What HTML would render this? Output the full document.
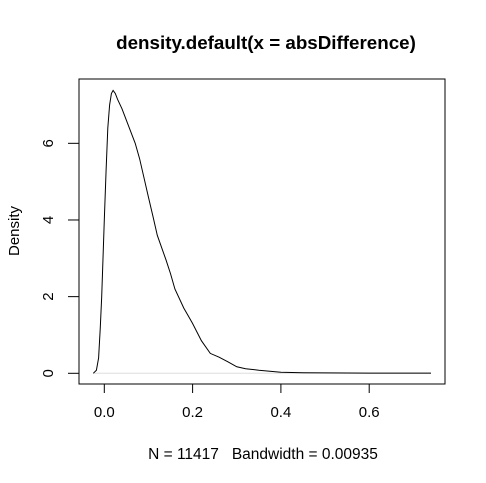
<!DOCTYPE html>
<html><head><meta charset="utf-8"><style>body{margin:0;background:#fff}svg{display:block;font-family:"Liberation Sans",Arial,sans-serif}</style></head>
<body>
<svg id="chart" width="486" height="483">
<text x="266" y="49" font-size="18.8" font-weight="bold" text-anchor="middle">density.default(x = absDifference)</text>
<rect x="79" y="79" width="366" height="305" fill="none" stroke="#000"/>
<g id="xaxis"></g>
<g id="yaxis"></g>
<line id="zero" stroke="#ddd"/>
<path id="curve" fill="none" stroke="#000" stroke-width="1"/>
<text x="263" y="459" font-size="15.5" text-anchor="middle" style="white-space:pre">N = 11417   Bandwidth = 0.00935</text>
<text transform="translate(19,231) rotate(-90)" font-size="15" text-anchor="middle">Density</text>
</svg>
<script>
const xTicks=[0,0.2,0.4,0.6];
const xTickLabels=["0.0","0.2","0.4","0.6"];
const yTicks=[0,2,4,6];
const yTickLabels=["0","2","4","6"];
const xs=[-0.025,-0.018,-0.013,-0.009,-0.006,-0.003,0,0.004,0.008,0.012,0.016,0.02,0.025,0.03,0.04,0.05,0.06,0.07,0.08,0.09,0.1,0.11,0.12,0.14,0.15,0.16,0.18,0.19,0.2,0.22,0.24,0.26,0.28,0.3,0.32,0.35,0.4,0.45,0.5,0.6,0.74];
const ys=[0,0.08,0.4,1.2,2.0,3.0,4.0,5.3,6.4,7.0,7.3,7.38,7.3,7.15,6.9,6.6,6.3,6.0,5.6,5.1,4.6,4.1,3.6,2.95,2.6,2.2,1.7,1.5,1.3,0.85,0.52,0.42,0.3,0.17,0.12,0.08,0.03,0.015,0.01,0.005,0.005];
const X=v=>104.3+v*441.5, Y=v=>373.3-v*38.33;
const NS="http://www.w3.org/2000/svg";
const xa=document.getElementById('xaxis'), ya=document.getElementById('yaxis');
function mk(t,a,p){const e=document.createElementNS(NS,t);for(const k in a)e.setAttribute(k,a[k]);p.appendChild(e);return e;}
let l=mk('line',{x1:X(xTicks[0]),x2:X(xTicks[xTicks.length-1]),y1:384,y2:384,stroke:'#000'},xa);


xTicks.forEach((v,i)=>{
 const t=mk('line',{x1:X(v),x2:X(v),y1:384,y2:393,stroke:'#000'},xa);
 
 
 const tx=mk('text',{x:X(v),y:417,'font-size':15,'text-anchor':'middle'},xa);tx.textContent=xTickLabels[i];
 
 
});
l=mk('line',{x1:79,x2:79,y1:Y(yTicks[0]),y2:Y(yTicks[yTicks.length-1]),stroke:'#000'},ya);


yTicks.forEach((v,i)=>{
 const t=mk('line',{x1:68,x2:79,y1:Y(v),y2:Y(v),stroke:'#000'},ya);
 
 
 const tx=mk('text',{transform:`translate(53,${Y(v)}) rotate(-90)`,'font-size':15,'text-anchor':'middle'},ya);tx.textContent=yTickLabels[i];
 
 
});
const z=document.getElementById('zero');
z.setAttribute('x1',X(xs[0]));z.setAttribute('x2',X(xs[xs.length-1]));z.setAttribute('y1',Y(0));z.setAttribute('y2',Y(0));
document.getElementById('curve').setAttribute('d',xs.map((v,i)=>(i?'L':'M')+X(v).toFixed(1)+','+Y(ys[i]).toFixed(1)).join(''));
</script>
</body></html>
